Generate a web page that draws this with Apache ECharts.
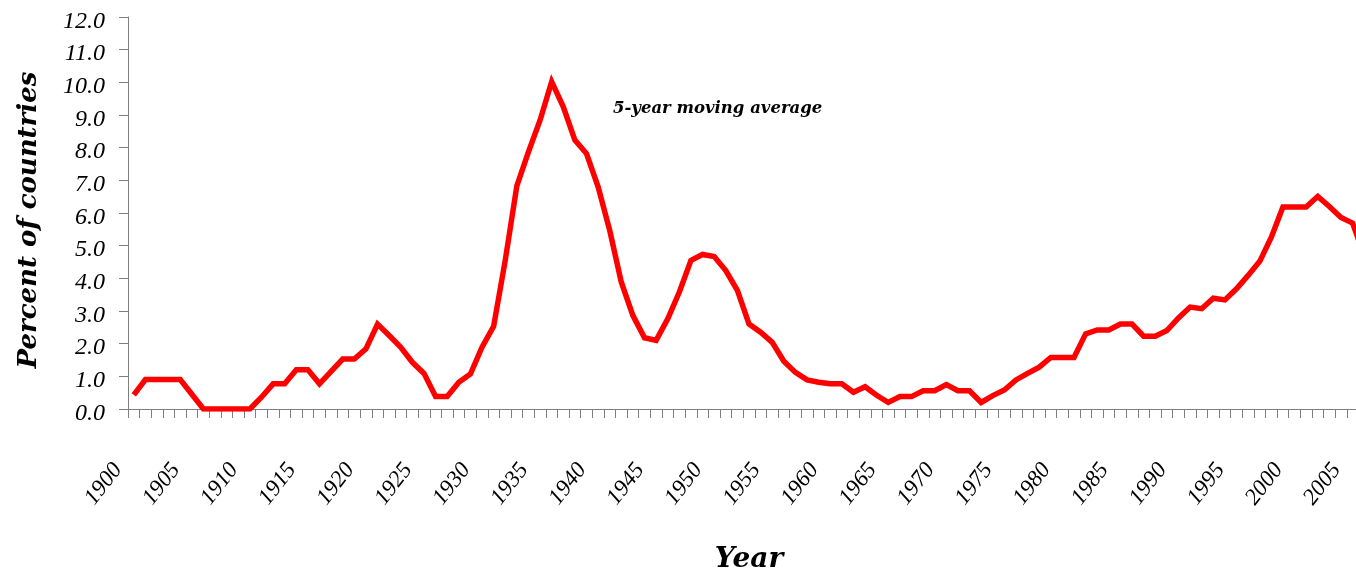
<!DOCTYPE html>
<html>
<head>
<meta charset="utf-8">
<style>
  html, body { margin: 0; padding: 0; background: #fff; }
  #chart { width: 1356px; height: 570px; }
</style>
<script src="https://cdn.jsdelivr.net/npm/echarts@6/dist/echarts.min.js"></script>
</head>
<body>
<div id="chart"></div>
<script>
const years = [];
for (let y = 1900; y <= 2006; y++) years.push(String(y));

const movingAverage = [
  0.43, 0.9, 0.9, 0.9, 0.9, 0.45, 0, 0, 0, 0,
  0, 0.36, 0.77, 0.77, 1.2, 1.2, 0.77, 1.15, 1.53, 1.53,
  1.84, 2.6, 2.25, 1.89, 1.43, 1.09, 0.38, 0.38, 0.82, 1.07,
  1.89, 2.53, 4.55, 6.83, 7.87, 8.84, 10.02, 9.25, 8.23, 7.82,
  6.8, 5.47, 3.88, 2.86, 2.18, 2.1, 2.76, 3.58, 4.55, 4.73,
  4.67, 4.24, 3.63, 2.6, 2.35, 2.04, 1.46, 1.12, 0.89, 0.82,
  0.77, 0.77, 0.51, 0.68, 0.42, 0.2, 0.38, 0.38, 0.56, 0.56,
  0.75, 0.56, 0.56, 0.2, 0.41, 0.58, 0.89, 1.09, 1.28, 1.58,
  1.58, 1.58, 2.3, 2.42, 2.42, 2.6, 2.6, 2.23, 2.23, 2.4,
  2.79, 3.12, 3.07, 3.39, 3.34, 3.68, 4.09, 4.52, 5.26, 6.18,
  6.18, 6.18, 6.51, 6.2, 5.86, 5.69, 4.7
];

const yTicks = { min: 0, max: 12, interval: 1 };
const yTitle = 'Percent of countries';
const xTitle = 'Year';
const note = '5-year moving average';

const chart = echarts.init(document.getElementById('chart'), null, { renderer: 'canvas' });
const axisGray = '#7f7f7f';
const labelFont = '"Liberation Serif"';
const titleFont = '"DejaVu Serif"';

chart.setOption({
  animation: false,
  backgroundColor: '#ffffff',
  grid: [
    { left: 128, right: -14, top: 17, bottom: 161, containLabel: false, outerBoundsMode: 'none' },
    // same plot frame, nudged left, carrying only the rotated year labels
    { left: 112, right: 2, top: 17, bottom: 161, containLabel: false, outerBoundsMode: 'none' }
  ],
  xAxis: [{
    type: 'category',
    gridIndex: 0,
    data: years,
    boundaryGap: true,
    name: xTitle,
    nameLocation: 'middle',
    nameGap: 137,
    nameTextStyle: { fontFamily: titleFont, fontStyle: 'italic', fontWeight: 'bold', fontSize: 28, color: '#000' },
    axisLine: { lineStyle: { color: axisGray, width: 1 } },
    axisTick: { show: true, interval: 0, length: 9, inside: false, alignWithLabel: false, lineStyle: { color: axisGray } },
    axisLabel: { show: false },
    splitLine: { show: false }
  }, {
    type: 'category',
    gridIndex: 1,
    data: years,
    boundaryGap: true,
    axisLine: { show: false },
    axisTick: { show: false },
    axisLabel: {
      interval: 4,
      rotate: 52,
      margin: 57,
      fontFamily: labelFont,
      fontStyle: 'italic',
      fontSize: 23,
      color: '#000',
      hideOverlap: false
    },
    splitLine: { show: false }
  }],
  yAxis: [{
    type: 'value',
    gridIndex: 0,
    min: yTicks.min,
    max: yTicks.max,
    interval: yTicks.interval,
    name: yTitle,
    nameLocation: 'middle',
    nameGap: 86,
    nameRotate: 90,
    nameTextStyle: { fontFamily: titleFont, fontStyle: 'italic', fontWeight: 'bold', fontSize: 26, color: '#000', padding: [0, 14, 0, 0] },
    axisLine: { show: true, lineStyle: { color: axisGray, width: 1 } },
    axisTick: { show: true, length: 9, inside: false, lineStyle: { color: axisGray } },
    axisLabel: {
      margin: 23,
      fontFamily: labelFont,
      fontStyle: 'italic',
      fontSize: 24,
      color: '#000',
      formatter: v => '{y|' + v.toFixed(1) + '}',
      rich: {
        y: {
          fontFamily: labelFont,
          fontStyle: 'italic',
          fontSize: 24,
          color: '#000',
          padding: [9, 0, 0, 0]
        }
      }
    },
    splitLine: { show: false }
  }, {
    type: 'value',
    gridIndex: 1,
    min: yTicks.min,
    max: yTicks.max,
    interval: yTicks.interval,
    show: false
  }],
  graphic: [{
    type: 'text',
    left: 613,
    top: 100,
    style: {
      text: note,
      font: 'italic bold 16.5px "DejaVu Serif"',
      fill: '#000'
    }
  }],
  series: [{
    type: 'line',
    xAxisIndex: 0,
    yAxisIndex: 0,
    data: movingAverage,
    showSymbol: false,
    symbol: 'none',
    lineStyle: { color: '#ff0000', width: 5.5, join: 'miter' },
    itemStyle: { color: '#ff0000' },
    clip: true
  }]
});
</script>
</body>
</html>
